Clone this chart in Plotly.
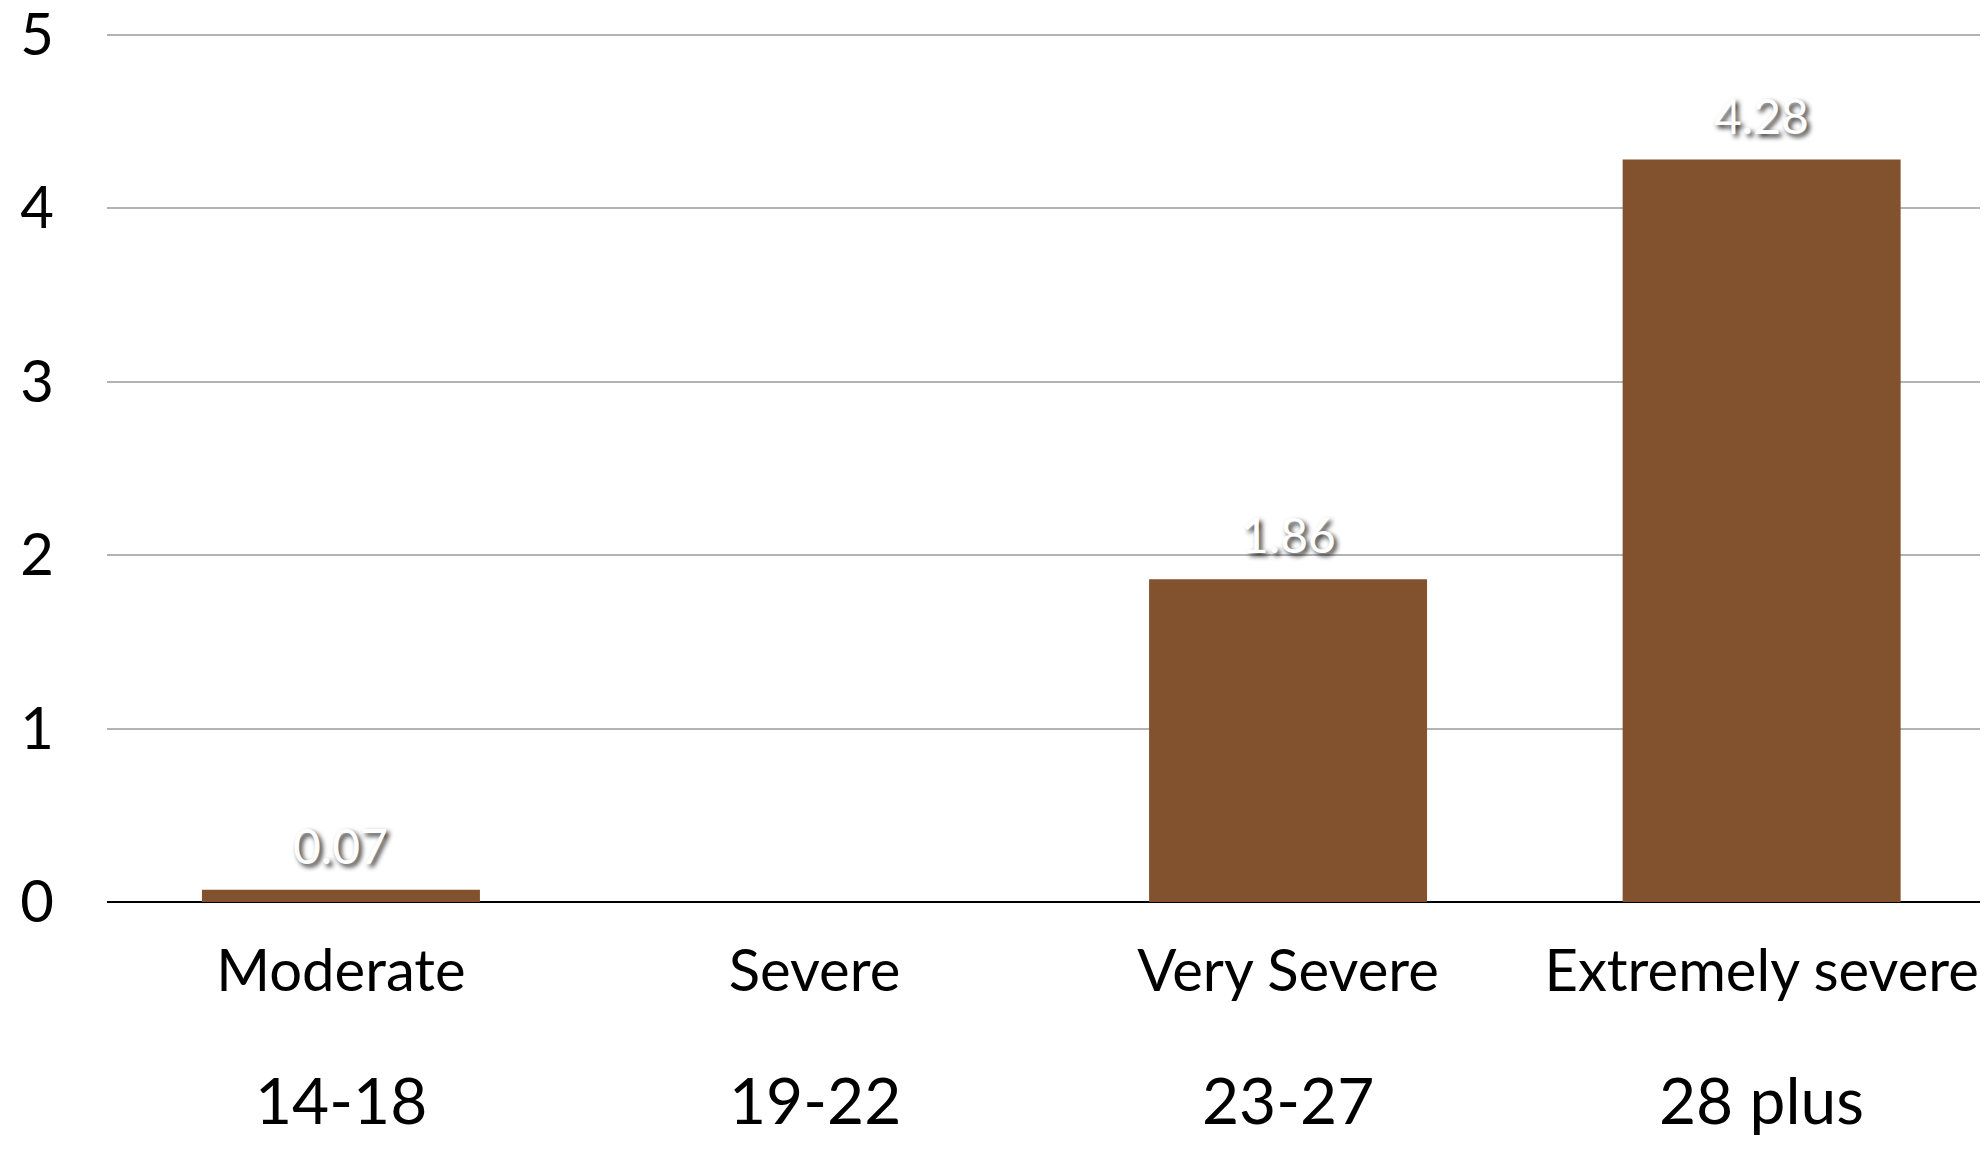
import plotly.graph_objects as go

categories = ["Moderate", "Severe", "Very Severe", "Extremely severe"]
ranges = ["14-18", "19-22", "23-27", "28 plus"]
values = [0.07, 0.0, 1.86, 4.28]
value_labels = ["0.07", "", "1.86", "4.28"]
y_ticks = [0, 1, 2, 3, 4, 5]
y_tick_text = ["0", "1", "2", "3", "4", "5"]

FONT = "Lato, 'Open Sans', sans-serif"
BAR = "#82512E"

xs = list(range(len(categories)))

fig = go.Figure()
fig.add_trace(go.Bar(
    x=xs, y=values, width=0.587,
    marker=dict(color=BAR, line=dict(width=0)),
    hoverinfo="skip",
))

annotations = []
for x, v, lab in zip(xs, values, value_labels):
    if lab:
        annotations.append(dict(
            x=x, y=v, xref="x", yref="y", text=lab, showarrow=False,
            yanchor="bottom", yshift=14,
            font=dict(family=FONT, size=48, color="white",
                      shadow="3px 3px 5px rgba(0,0,0,0.85)"),
        ))
for x, r in zip(xs, ranges):
    annotations.append(dict(
        x=x, y=-0.226, xref="x", yref="paper", text=r, showarrow=False,
        yanchor="middle",
        font=dict(family=FONT, size=64, color="black"),
    ))

fig.update_layout(
    width=1980, height=1153,
    margin=dict(l=99, r=0, t=18, b=259, pad=0, autoexpand=False),
    plot_bgcolor="white", paper_bgcolor="white",
    showlegend=False,
    annotations=annotations,
    xaxis=dict(
        range=[-0.494, 3.478], automargin=False,
        tickmode="array", tickvals=xs, ticktext=categories,
        tickfont=dict(family=FONT, size=58, color="black"),
        ticks="", ticklabelstandoff=30, ticklabeloverflow="allow",
        showgrid=False, showline=False, zeroline=False,
    ),
    yaxis=dict(
        range=[0, 5.05], automargin=False,
        tickmode="array", tickvals=y_ticks, ticktext=y_tick_text,
        tickfont=dict(family=FONT, size=58, color="black"),
        ticks="", ticklabelstandoff=52, ticklabeloverflow="allow",
        showgrid=True, gridcolor="#b3b3b3", gridwidth=2,
        zeroline=True, zerolinecolor="black", zerolinewidth=2,
        showline=False,
    ),
)

fig.write_html("out.html")
